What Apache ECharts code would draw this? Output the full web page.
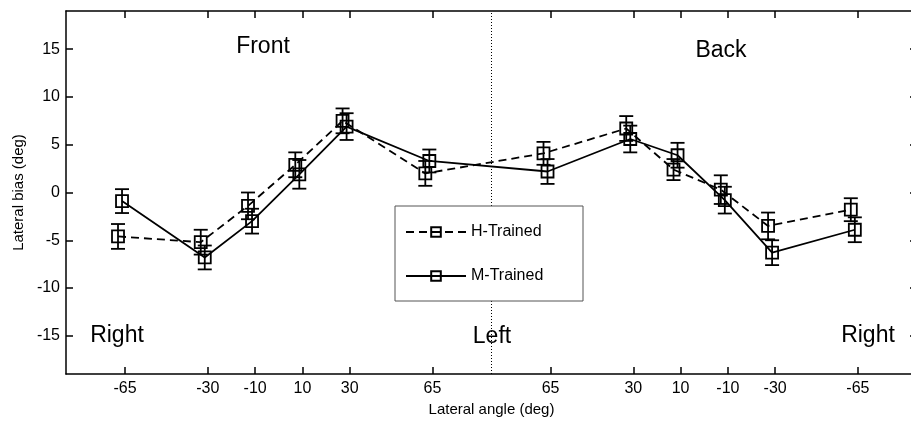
<!DOCTYPE html>
<html>
<head>
<meta charset="utf-8">
<script src="https://cdn.jsdelivr.net/npm/echarts@6/dist/echarts.min.js"></script>
<style>
  html, body { margin: 0; padding: 0; background: #fff; overflow: hidden; }
  #chart { width: 918px; height: 426px; }
</style>
</head>
<body>
<div id="chart"></div>
<script>
// azimuth positions of the ticks (front -65..65, back mapped to 180 - angle)
const tickAngles = [-65, -30, -10, 10, 30, 65, 115, 150, 170, 190, 210, 245];
const tickLabels = ['-65', '-30', '-10', '10', '30', '65', '65', '30', '10', '-10', '-30', '-65'];
const yTicks = [-15, -10, -5, 0, 5, 10, 15];

const hTrained = [-4.6, -5.2, -1.4, 2.9, 7.5, 2.0, 4.1, 6.7, 2.4, 0.3, -3.5, -1.8];
const hErr = [1.3, 1.3, 1.4, 1.3, 1.3, 1.3, 1.2, 1.3, 1.1, 1.5, 1.4, 1.2];
const mTrained = [-0.9, -6.8, -3.0, 1.9, 6.9, 3.3, 2.2, 5.6, 3.9, -0.8, -6.3, -3.9];
const mErr = [1.25, 1.25, 1.3, 1.5, 1.4, 1.2, 1.3, 1.4, 1.3, 1.4, 1.3, 1.3];

const hShift = -3;    // small horizontal offsets between the two groups
const mShift = -1.3;

const FONT = "'Liberation Sans', Arial, sans-serif";

let chart = echarts.init(document.getElementById('chart'));

function pts(vals, shift) {
  return vals.map((v, i) => [tickAngles[i] + shift, v]);
}
function bars(vals, errs, shift) {
  return vals.map((v, i) => [tickAngles[i] + shift, v - errs[i], v + errs[i]]);
}

function errorBar(params, api) {
  let x = api.value(0);
  let top = api.coord([x, api.value(2)]);
  let bot = api.coord([x, api.value(1)]);
  let w = 7;
  let st = { stroke: '#000', lineWidth: 1.8 };
  return {
    type: 'group',
    children: [
      { type: 'line', shape: { x1: top[0], y1: top[1], x2: bot[0], y2: bot[1] }, style: st },
      { type: 'line', shape: { x1: top[0] - w, y1: top[1], x2: top[0] + w, y2: top[1] }, style: st },
      { type: 'line', shape: { x1: bot[0] - w, y1: bot[1], x2: bot[0] + w, y2: bot[1] }, style: st }
    ]
  };
}

const axisLine = { show: true, onZero: false, lineStyle: { color: '#000', width: 1.5 } };

let option = {
  backgroundColor: '#fff',
  animation: false,
  textStyle: { fontFamily: FONT },
  grid: { left: 66, top: 11, right: 1, height: 363 },
  legend: {
    orient: 'vertical',
    left: 405,
    top: 224,
    padding: 0,
    itemGap: 28,
    itemWidth: 60,
    itemHeight: 12,
    z: 50,
    textStyle: { fontFamily: FONT, fontSize: 16, color: '#000' },
    data: ['H-Trained', 'M-Trained']
  },
  xAxis: [
    {
      type: 'value',
      position: 'bottom',
      min: -90,
      max: 270,
      name: 'Lateral angle (deg)',
      nameLocation: 'middle',
      nameGap: 28,
      nameTextStyle: { fontFamily: FONT, fontSize: 15, color: '#000' },
      axisLine: axisLine,
      axisTick: { show: true, inside: true, length: 7, customValues: tickAngles, lineStyle: { color: '#000', width: 1.5 } },
      axisLabel: {
        customValues: tickAngles,
        margin: 7,
        fontFamily: FONT,
        fontSize: 16,
        color: '#000',
        formatter: function (v) {
          let i = tickAngles.indexOf(v);
          return i >= 0 ? tickLabels[i] : '';
        }
      },
      splitLine: { show: false }
    },
    {
      type: 'value',
      position: 'top',
      min: -90,
      max: 270,
      axisLine: axisLine,
      axisTick: { show: true, inside: true, length: 7, customValues: tickAngles, lineStyle: { color: '#000', width: 1.5 } },
      axisLabel: { show: false },
      splitLine: { show: false }
    }
  ],
  yAxis: [
    {
      type: 'value',
      position: 'left',
      min: -19,
      max: 19,
      name: 'Lateral bias (deg)',
      nameLocation: 'middle',
      nameGap: 36,
      nameTextStyle: { fontFamily: FONT, fontSize: 15, color: '#000' },
      axisLine: axisLine,
      axisTick: { show: true, inside: true, length: 7, customValues: yTicks, lineStyle: { color: '#000', width: 1.5 } },
      axisLabel: { customValues: yTicks, margin: 6, fontFamily: FONT, fontSize: 16, color: '#000' },
      splitLine: { show: false }
    },
    {
      type: 'value',
      position: 'right',
      min: -19,
      max: 19,
      axisLine: axisLine,
      axisTick: { show: true, inside: true, length: 7, customValues: yTicks, lineStyle: { color: '#000', width: 1.5 } },
      axisLabel: { show: false },
      splitLine: { show: false }
    }
  ],
  graphic: [
    { type: 'rect', z: 10, shape: { x: 395, y: 206, width: 188, height: 95 },
      style: { fill: '#fff', stroke: '#555', lineWidth: 1 } },
    { type: 'text', z: 10, x: 263, y: 47, style: { text: 'Front', font: '23px ' + FONT, fill: '#000', align: 'center', verticalAlign: 'middle' } },
    { type: 'text', z: 10, x: 721, y: 51, style: { text: 'Back', font: '23px ' + FONT, fill: '#000', align: 'center', verticalAlign: 'middle' } },
    { type: 'text', z: 10, x: 117, y: 336, style: { text: 'Right', font: '23px ' + FONT, fill: '#000', align: 'center', verticalAlign: 'middle' } },
    { type: 'text', z: 10, x: 492, y: 337, style: { text: 'Left', font: '23px ' + FONT, fill: '#000', align: 'center', verticalAlign: 'middle' } },
    { type: 'text', z: 10, x: 868, y: 336, style: { text: 'Right', font: '23px ' + FONT, fill: '#000', align: 'center', verticalAlign: 'middle' } }
  ],
  series: [
    {
      name: 'H-Trained',
      type: 'line',
      data: pts(hTrained, hShift),
      symbol: 'rect',
      symbolSize: 12,
      itemStyle: { color: 'rgba(0,0,0,0)', borderColor: '#000', borderWidth: 1.8 },
      lineStyle: { color: '#000', width: 1.8, type: [8, 5] },
      markLine: {
        silent: true,
        symbol: 'none',
        label: { show: false },
        lineStyle: { color: '#000', width: 1, type: [1, 2] },
        data: [{ xAxis: 90 }]
      }
    },
    {
      name: 'M-Trained',
      type: 'line',
      data: pts(mTrained, mShift),
      symbol: 'rect',
      symbolSize: 12,
      itemStyle: { color: 'rgba(0,0,0,0)', borderColor: '#000', borderWidth: 1.8 },
      lineStyle: { color: '#000', width: 1.8, type: 'solid' }
    },
    {
      name: 'H-err',
      type: 'custom',
      renderItem: errorBar,
      encode: { x: 0, y: [1, 2] },
      data: bars(hTrained, hErr, hShift),
      z: 3
    },
    {
      name: 'M-err',
      type: 'custom',
      renderItem: errorBar,
      encode: { x: 0, y: [1, 2] },
      data: bars(mTrained, mErr, mShift),
      z: 3
    }
  ]
};

chart.setOption(option);
window.onresize = chart.resize;
</script>
</body>
</html>
